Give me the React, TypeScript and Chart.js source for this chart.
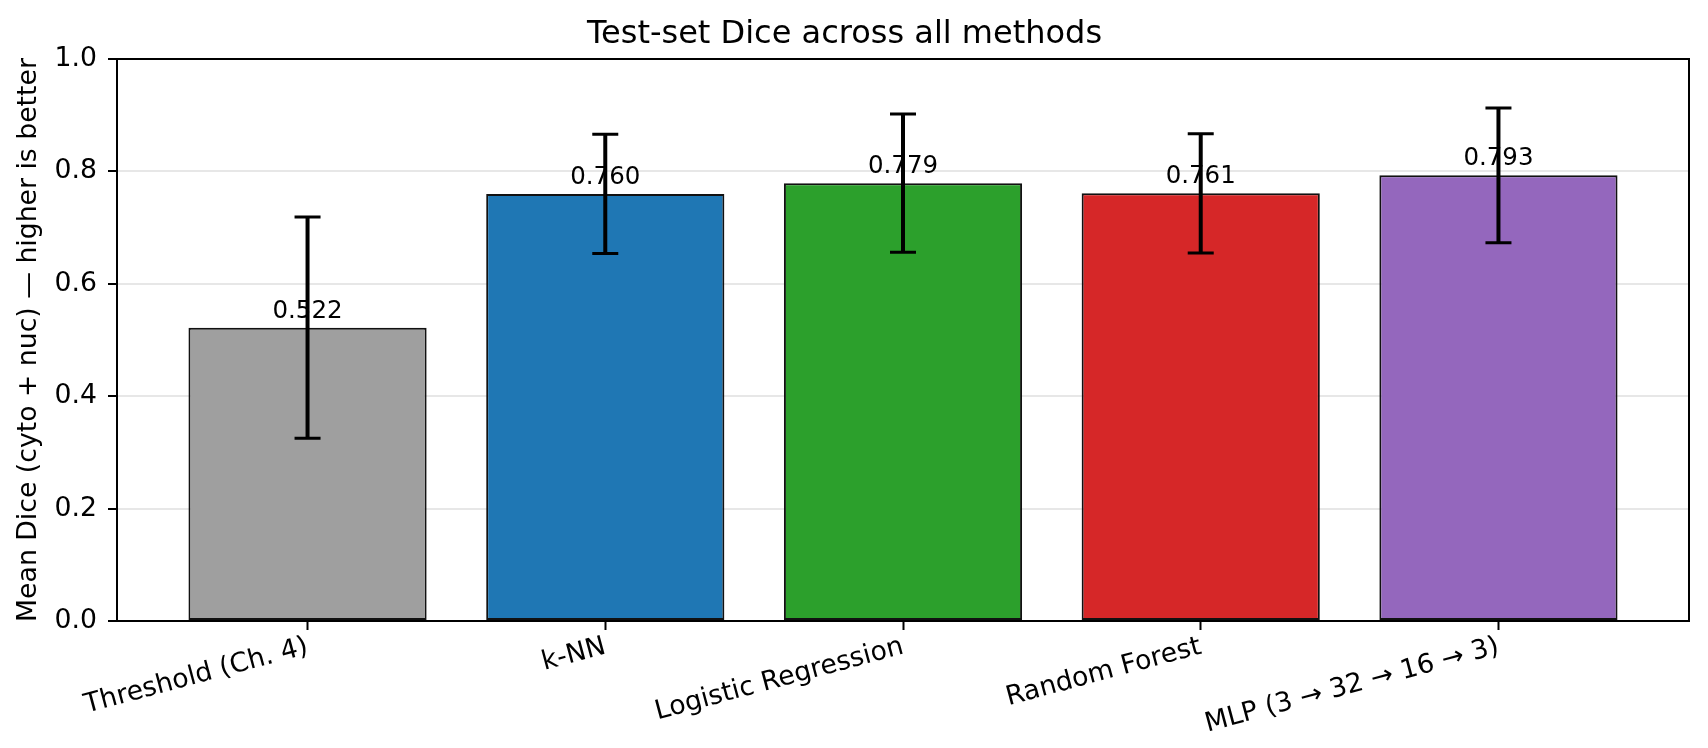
import { useEffect, useRef } from 'react';
import { Chart, registerables } from 'chart.js';

// Register Chart.js components
Chart.register(...registerables);

const methods = [
  'Threshold (Ch. 4)',
  'k-NN',
  'Logistic Regression',
  'Random Forest',
  'MLP (3 → 32 → 16 → 3)',
];
const meanDice = [0.522, 0.76, 0.779, 0.761, 0.793];
const stdDice = [0.197, 0.106, 0.123, 0.106, 0.12];
const barColors = ['#9f9f9f', '#1f77b4', '#2ca02c', '#d62728', '#9467bd'];
const yTicks = [0, 0.2, 0.4, 0.6, 0.8, 1.0];

const FONT = '"DejaVu Sans", "Liberation Sans", sans-serif';

// matplotlib-style x margins around bars of width 0.8
const span = methods.length - 1 + 0.8;
const xMin = -0.4 - 0.05 * span;
const xMax = methods.length - 1 + 0.4 + 0.05 * span;

// Error bars, value labels and the full axes frame
const overlayPlugin = {
  id: 'overlay',
  afterDraw(chart: any) {
    const { ctx, chartArea, scales } = chart;
    const x = scales.x;
    const y = scales.y;
    ctx.save();

    ctx.strokeStyle = '#000';
    ctx.lineWidth = 2;
    ctx.strokeRect(chartArea.left, chartArea.top, chartArea.right - chartArea.left, chartArea.bottom - chartArea.top);

    meanDice.forEach((m, i) => {
      const px = x.getPixelForValue(i);
      const top = y.getPixelForValue(m + stdDice[i]);
      const bot = y.getPixelForValue(m - stdDice[i]);

      ctx.strokeStyle = '#000';
      ctx.lineWidth = 4;
      ctx.beginPath();
      ctx.moveTo(px, top);
      ctx.lineTo(px, bot);
      ctx.stroke();

      ctx.lineWidth = 3;
      ctx.beginPath();
      ctx.moveTo(px - 13, top);
      ctx.lineTo(px + 13, top);
      ctx.moveTo(px - 13, bot);
      ctx.lineTo(px + 13, bot);
      ctx.stroke();

      ctx.fillStyle = '#000';
      ctx.font = `24.5px ${FONT}`;
      ctx.textAlign = 'center';
      ctx.textBaseline = 'alphabetic';
      ctx.fillText(m.toFixed(3), px, y.getPixelForValue(m) - 10);
    });

    ctx.restore();
  },
};

const App = () => {
  const chartRef = useRef<HTMLCanvasElement>(null);
  const chartInstance = useRef<Chart | null>(null);

  useEffect(() => {
    document.body.style.margin = '0';
    document.body.style.overflow = 'hidden';
    if (!chartRef.current) return;

    if (chartInstance.current) {
      chartInstance.current.destroy();
    }

    const ctx = chartRef.current.getContext('2d');
    if (!ctx) return;

    chartInstance.current = new Chart(ctx, {
      type: 'bar',
      data: {
        datasets: [
          {
            data: methods.map((_, i) => ({ x: i, y: meanDice[i] })),
            backgroundColor: barColors,
            borderColor: '#111',
            borderWidth: 2,
            borderSkipped: false,
            barPercentage: 0.8,
            categoryPercentage: 1,
          },
        ],
      },
      options: {
        responsive: false,
        animation: false,
        layout: { padding: { left: 0, top: 0, right: 19, bottom: 0 } },
        plugins: {
          legend: { display: false },
          tooltip: { enabled: false },
          title: {
            display: true,
            text: 'Test-set Dice across all methods',
            color: '#000',
            font: { family: FONT, size: 32, weight: 'normal' },
            padding: { top: 15, bottom: 5.6 },
          },
        },
        scales: {
          x: {
            type: 'linear',
            min: xMin,
            max: xMax,
            offset: false,
            afterBuildTicks: (scale: any) => {
              scale.ticks = methods.map((_, i) => ({ value: i }));
            },
            afterFit: (scale: any) => {
              scale.height = 127;
            },
            ticks: {
              autoSkip: false,
              minRotation: 15,
              maxRotation: 15,
              padding: 1,
              color: '#000',
              font: { family: FONT, size: 26.7 },
              callback: (value: any) => methods[value as number] ?? '',
            },
            grid: {
              offset: false,
              drawOnChartArea: false,
              drawTicks: true,
              tickLength: 9,
              tickColor: '#000',
              tickWidth: 2,
            },
            border: { color: '#000', width: 2 },
          },
          y: {
            min: 0,
            max: 1,
            z: 1,
            afterBuildTicks: (scale: any) => {
              scale.ticks = yTicks.map((v) => ({ value: v }));
            },
            afterFit: (scale: any) => {
              scale.width = 117;
            },
            ticks: {
              padding: 11,
              color: '#000',
              font: { family: FONT, size: 26.7 },
              callback: (value: any) => Number(value).toFixed(1),
            },
            grid: {
              color: 'rgba(176, 176, 176, 0.3)',
              lineWidth: 2,
              tickColor: '#000',
              tickLength: 9,
              tickWidth: 2,
            },
            border: { color: '#000', width: 2 },
            title: {
              display: true,
              text: 'Mean Dice (cyto + nuc) — higher is better',
              color: '#000',
              font: { family: FONT, size: 26.7 },
              padding: { top: 13, bottom: 0 },
            },
          },
        },
      },
      plugins: [overlayPlugin],
    } as any);

    return () => {
      if (chartInstance.current) {
        chartInstance.current.destroy();
        chartInstance.current = null;
      }
    };
  }, []);

  return (
    <div style={{ width: 1708, height: 748, background: '#fff' }}>
      <canvas ref={chartRef} width={1708} height={748} style={{ display: 'block' }} />
    </div>
  );
};

export default App;
